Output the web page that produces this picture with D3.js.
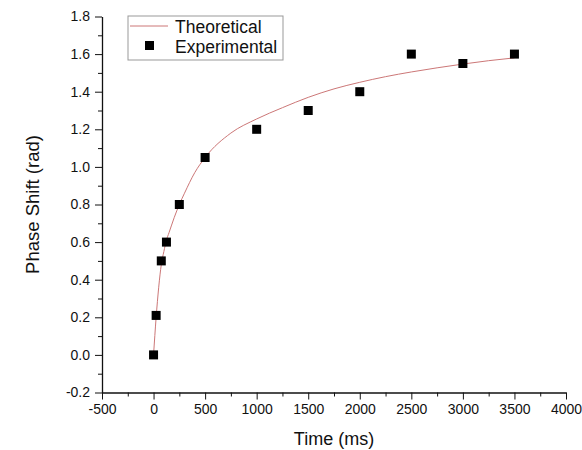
<html>
<head>
  <script src="https://d3js.org/d3.v7.min.js"></script>
  <style>
    body { margin: 0; background: #fff; font-family: 'Liberation Sans', Arial, Helvetica, sans-serif; }
    .axis path, .axis line { stroke: #111; }
    .axis text { fill: #111; }
  </style>
</head>
<body>
  <svg id="chart" width="582" height="450"></svg>
  <script>
    // ----- data -----
    const expTime = [0, 25, 75, 125, 250, 500, 1000, 1500, 2000, 2500, 3000, 3500];
    const expPhase = [0, 0.21, 0.5, 0.6, 0.8, 1.05, 1.2, 1.3, 1.4, 1.6, 1.55, 1.6];

    const theoTime = [0, 25, 50, 75, 100, 125, 150, 200, 250, 300, 400, 500, 750, 1000, 1250, 1500, 1750, 2000, 2250, 2500, 2750, 3000, 3250, 3500];
    const theoPhase = [0, 0.2, 0.36, 0.48, 0.55, 0.61, 0.65, 0.73, 0.8, 0.86, 0.97, 1.05, 1.18, 1.255, 1.315, 1.37, 1.415, 1.45, 1.48, 1.505, 1.527, 1.547, 1.565, 1.58];

    const xTicks = [-500, 0, 500, 1000, 1500, 2000, 2500, 3000, 3500, 4000];
    const xMinor = [-250, 250, 750, 1250, 1750, 2250, 2750, 3250, 3750];
    const yTicks = [-0.2, 0.0, 0.2, 0.4, 0.6, 0.8, 1.0, 1.2, 1.4, 1.6, 1.8];
    const yMinor = [-0.1, 0.1, 0.3, 0.5, 0.7, 0.9, 1.1, 1.3, 1.5, 1.7];

    const legendLabels = ["Theoretical", "Experimental"];

    // ----- dimensions -----
    const svg = d3.select("svg#chart");
    const margin = { top: 16.5, left: 102, right: 16, bottom: 57.5 };
    const width = 582 - margin.left - margin.right;
    const height = 450 - margin.top - margin.bottom;

    const plot = svg.append("g")
      .attr("transform", `translate(${margin.left},${margin.top})`);

    // ----- scales -----
    const x = d3.scaleLinear().domain([-500, 4000]).range([0, width]);
    const y = d3.scaleLinear().domain([-0.2, 1.8]).range([height, 0]);

    // ----- axes -----
    // minor ticks first (no labels)
    plot.append("g").attr("class", "axis")
      .attr("transform", `translate(0,${height})`)
      .call(d3.axisBottom(x).tickValues(xMinor).tickSize(4).tickSizeOuter(0).tickFormat(""))
      .call(g => g.select(".domain").remove());
    plot.append("g").attr("class", "axis")
      .call(d3.axisLeft(y).tickValues(yMinor).tickSize(4).tickSizeOuter(0).tickFormat(""))
      .call(g => g.select(".domain").remove());

    plot.append("g").attr("class", "axis")
      .attr("transform", `translate(0,${height})`)
      .style("font-size", "14px")
      .style("font-family", "'Liberation Sans', Arial, sans-serif")
      .call(d3.axisBottom(x).tickValues(xTicks).tickSize(7).tickPadding(5).tickSizeOuter(0).tickFormat(d => d))
      .call(g => g.select(".domain").attr("stroke-width", 1.3));

    plot.append("g").attr("class", "axis")
      .style("font-size", "14px")
      .style("font-family", "'Liberation Sans', Arial, sans-serif")
      .call(d3.axisLeft(y).tickValues(yTicks).tickSize(7).tickPadding(5).tickSizeOuter(0).tickFormat(d => d.toFixed(1)))
      .call(g => g.select(".domain").attr("stroke-width", 1.3));

    // axis titles
    svg.append("text")
      .attr("x", margin.left + width / 2)
      .attr("y", 445)
      .attr("text-anchor", "middle")
      .style("font-size", "18px")
      .attr("fill", "#111")
      .text("Time (ms)");

    svg.append("text")
      .attr("transform", `translate(38.5,${margin.top + height / 2}) rotate(-90)`)
      .attr("text-anchor", "middle")
      .style("font-size", "18.5px")
      .attr("fill", "#111")
      .text("Phase Shift (rad)");

    // ----- theoretical curve -----
    const theo = theoTime.map((t, i) => ({ t: t, p: theoPhase[i] }));
    plot.append("path")
      .datum(theo)
      .attr("fill", "none")
      .attr("stroke", "#cc7777")
      .attr("stroke-width", 1)
      .attr("d", d3.line().x(d => x(d.t)).y(d => y(d.p)).curve(d3.curveMonotoneX));

    // ----- experimental points -----
    const sq = 9;
    const exp = expTime.map((t, i) => ({ t: t, p: expPhase[i] }));
    plot.selectAll("rect.pt")
      .data(exp)
      .join("rect").attr("class", "pt")
      .attr("x", d => x(d.t) - sq / 2)
      .attr("y", d => y(d.p) - sq / 2)
      .attr("width", sq)
      .attr("height", sq)
      .attr("fill", "#000");

    // ----- legend -----
    const legend = svg.append("g").attr("transform", "translate(128,16)");
    legend.append("rect")
      .attr("width", 155).attr("height", 44)
      .attr("fill", "#fff").attr("stroke", "#999").attr("stroke-width", 1);
    legend.append("line")
      .attr("x1", 2).attr("x2", 40).attr("y1", 10).attr("y2", 10)
      .attr("stroke", "#cc7777").attr("stroke-width", 1);
    legend.append("rect")
      .attr("x", 17).attr("y", 29.5 - sq / 2).attr("width", sq).attr("height", sq)
      .attr("fill", "#000");
    legend.selectAll("text")
      .data(legendLabels)
      .join("text")
      .attr("x", 47)
      .attr("y", (d, i) => 17 + i * 20)
      .style("font-size", "17.5px")
      .attr("fill", "#111")
      .text(d => d);
  </script>
</body>
</html>
